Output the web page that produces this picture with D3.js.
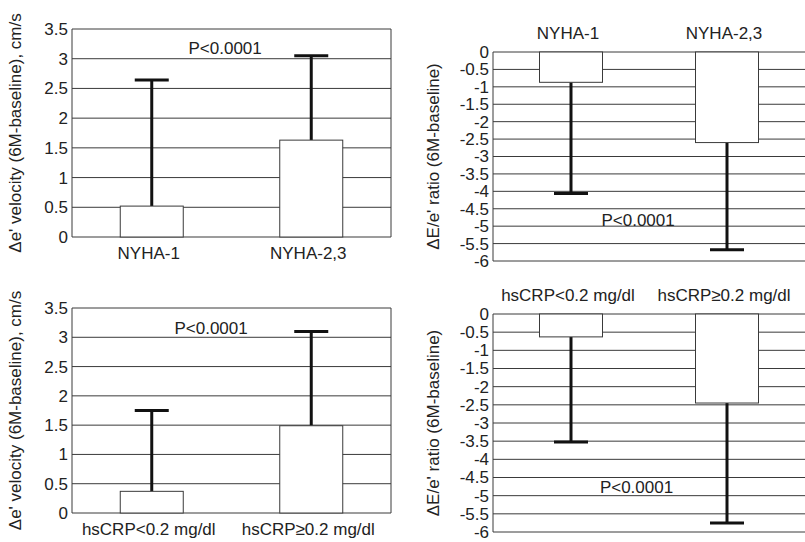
<!DOCTYPE html>
<html>
<head>
<meta charset="utf-8">
<script src="https://cdn.jsdelivr.net/npm/d3@7"></script>
<style>
  body { margin: 0; background: #fff; }
  svg { font-family: "Liberation Sans", Arial, Helvetica, sans-serif; }
</style>
</head>
<body>
<div id="chart"></div>
<script>
// group labels
const nyhaGroups = ["NYHA-1", "NYHA-2,3"];
const crpGroups = ["hsCRP<0.2 mg/dl", "hsCRP\u22650.2 mg/dl"];

// mean change and SD
const velocityNyhaMean = [0.52, 1.63];
const velocityNyhaSD = [2.12, 1.42];
const ratioNyhaMean = [-0.87, -2.6];
const ratioNyhaSD = [3.19, 3.08];
const velocityCrpMean = [0.37, 1.49];
const velocityCrpSD = [1.38, 1.61];
const ratioCrpMean = [-0.63, -2.45];
const ratioCrpSD = [2.89, 3.3];

// tick values
const velocityTicks = [0, 0.5, 1, 1.5, 2, 2.5, 3, 3.5];
const ratioTicks = [0, -0.5, -1, -1.5, -2, -2.5, -3, -3.5, -4, -4.5, -5, -5.5, -6];

const velocityLabel = "\u0394e' velocity (6M-baseline), cm/s";
const ratioLabel = "\u0394E/e' ratio (6M-baseline)";
const pText = "P<0.0001";

const svg = d3.select("#chart").append("svg")
    .attr("width", 805)
    .attr("height", 542);

// one panel = framed plot with two bars and their SD whiskers
function drawPanel(cfg) {
    const x = d3.scalePoint()
        .domain(cfg.groups)
        .range([cfg.left, cfg.right])
        .padding(0.5);
    // highest tick at the top in both kinds of panel
    const y = d3.scaleLinear()
        .domain([d3.max(cfg.ticks), d3.min(cfg.ticks)])
        .range([cfg.top, cfg.bottom]);

    const g = svg.append("g");
    const barW = 63;
    const capW = 34;

    // grid lines
    g.selectAll(".grid")
        .data(cfg.ticks)
        .enter().append("line")
        .attr("x1", cfg.left)
        .attr("x2", cfg.right)
        .attr("y1", d => y(d))
        .attr("y2", d => y(d))
        .style("stroke", "#3a3a3a")
        .style("stroke-width", "1px");

    // frame
    g.append("line")
        .attr("x1", cfg.left).attr("x2", cfg.left)
        .attr("y1", cfg.top).attr("y2", cfg.bottom)
        .style("stroke", "#3a3a3a");
    if (cfg.rightFrame) {
        g.append("line")
            .attr("x1", cfg.right).attr("x2", cfg.right)
            .attr("y1", cfg.top).attr("y2", cfg.bottom)
            .style("stroke", "#3a3a3a");
    }

    // tick labels
    g.selectAll(".tick")
        .data(cfg.ticks)
        .enter().append("text")
        .attr("x", cfg.left - 4)
        .attr("y", d => y(d))
        .attr("dy", "0.35em")
        .style("text-anchor", "end")
        .style("font-size", "17px")
        .style("fill", "#222")
        .text(d => String(d));

    const rows = cfg.groups.map((name, i) => ({
        name: name,
        mean: cfg.mean[i],
        end: cfg.mean[i] + (cfg.negative ? -cfg.sd[i] : cfg.sd[i])
    }));

    // whiskers run from the bar end out to mean +/- SD
    g.selectAll(".err")
        .data(rows)
        .enter().append("line")
        .attr("x1", d => x(d.name))
        .attr("x2", d => x(d.name))
        .attr("y1", d => y(d.mean))
        .attr("y2", d => y(d.end))
        .style("stroke", "#111")
        .style("stroke-width", "3px");

    g.selectAll(".cap")
        .data(rows)
        .enter().append("line")
        .attr("x1", d => x(d.name) - capW / 2)
        .attr("x2", d => x(d.name) + capW / 2)
        .attr("y1", d => y(d.end))
        .attr("y2", d => y(d.end))
        .style("stroke", "#111")
        .style("stroke-width", "3px");

    g.selectAll(".bar")
        .data(rows)
        .enter().append("rect")
        .attr("x", d => x(d.name) - barW / 2)
        .attr("width", barW)
        .attr("y", d => Math.min(y(0), y(d.mean)))
        .attr("height", d => Math.abs(y(d.mean) - y(0)))
        .style("fill", "#fff")
        .style("stroke", "#3a3a3a")
        .style("stroke-width", "1px");

    // group labels, below for positive panels, above for negative ones
    g.selectAll(".cat")
        .data(rows)
        .enter().append("text")
        .attr("x", d => x(d.name) - 3)
        .attr("y", cfg.negative ? cfg.top - 13 : cfg.bottom + 22)
        .style("text-anchor", "middle")
        .style("font-size", "17px")
        .style("fill", "#222")
        .text(d => d.name);

    // p value
    g.append("text")
        .attr("x", cfg.left + cfg.pX * (cfg.right - cfg.left))
        .attr("y", y(cfg.pY))
        .attr("dy", "0.35em")
        .style("text-anchor", "middle")
        .style("font-size", "17px")
        .style("fill", "#222")
        .text(pText);

    // y axis title
    g.append("text")
        .attr("transform", "translate(" + cfg.labelX + "," + (cfg.top + cfg.bottom) / 2 + ") rotate(-90)")
        .attr("dy", "0.35em")
        .style("text-anchor", "middle")
        .style("font-size", "17px")
        .style("fill", "#222")
        .text(cfg.yLabel);
}

drawPanel({
    groups: nyhaGroups, mean: velocityNyhaMean, sd: velocityNyhaSD,
    ticks: velocityTicks, negative: false, yLabel: velocityLabel,
    left: 72, right: 391, top: 29, bottom: 237, rightFrame: true,
    labelX: 15, pX: 0.48, pY: 3.18
});

drawPanel({
    groups: nyhaGroups, mean: ratioNyhaMean, sd: ratioNyhaSD,
    ticks: ratioTicks, negative: true, yLabel: ratioLabel,
    left: 493, right: 805, top: 52, bottom: 261, rightFrame: false,
    labelX: 433, pX: 0.465, pY: -4.82
});

drawPanel({
    groups: crpGroups, mean: velocityCrpMean, sd: velocityCrpSD,
    ticks: velocityTicks, negative: false, yLabel: velocityLabel,
    left: 72, right: 391, top: 308, bottom: 513, rightFrame: true,
    labelX: 15, pX: 0.436, pY: 3.16
});

drawPanel({
    groups: crpGroups, mean: ratioCrpMean, sd: ratioCrpSD,
    ticks: ratioTicks, negative: true, yLabel: ratioLabel,
    left: 493, right: 805, top: 314, bottom: 532, rightFrame: false,
    labelX: 433, pX: 0.46, pY: -4.77
});
</script>
</body>
</html>
